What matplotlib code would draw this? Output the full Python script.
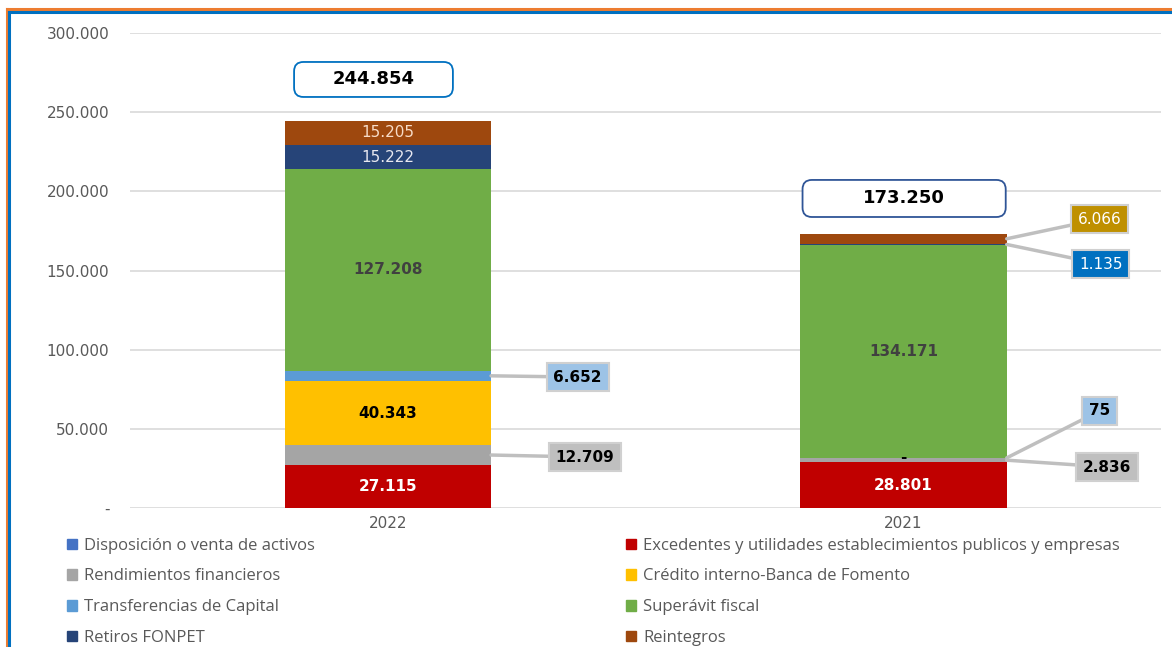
import matplotlib.pyplot as plt
from matplotlib.lines import Line2D
from matplotlib.patches import Patch, FancyBboxPatch

years = ['2022', '2021']
series = [
    'Disposición o venta de activos',
    'Excedentes y utilidades establecimientos publicos y empresas',
    'Rendimientos financieros',
    'Crédito interno-Banca de Fomento',
    'Transferencias de Capital',
    'Superávit fiscal',
    'Retiros FONPET',
    'Reintegros',
]
disposicion = [0, 0]
excedentes = [27115, 28801]
rendimientos = [12709, 2836]
credito = [40343, 0]
transferencias = [6652, 75]
superavit = [127208, 134171]
fonpet = [15222, 1135]
reintegros = [15205, 6066]
totales = [244854, 173250]

values = [disposicion, excedentes, rendimientos, credito, transferencias,
          superavit, fonpet, reintegros]
colors = ['#4472C4', '#C00000', '#A5A5A5', '#FFC000', '#5B9BD5',
          '#70AD47', '#264478', '#9E480E']


def fmt(v):
    if v == 0:
        return '-'
    return f'{v:,.0f}'.replace(',', '.')


fig = plt.figure(figsize=(11.72, 6.47), dpi=100)
ax = fig.add_axes([0.111, 0.2148, 0.880, 0.7342])

x = [0, 1]
width = 0.4
bottoms = [0, 0]
bars = []
for vals, col in zip(values, colors):
    b = ax.bar(x, vals, width, bottom=bottoms, color=col, zorder=3)
    bars.append((b, list(bottoms)))
    bottoms = [bt + v for bt, v in zip(bottoms, vals)]

ax.set_xlim(-0.5, 1.5)
ax.set_ylim(0, 300000)
ax.set_yticks(range(0, 300001, 50000))
ax.set_yticklabels([fmt(v) for v in range(0, 300001, 50000)])
ax.set_xticks(x)
ax.set_xticklabels(years)
ax.tick_params(axis='both', length=0, labelsize=11, colors='#595959', pad=6)
ax.tick_params(axis='y', pad=15)
for s in ax.spines.values():
    s.set_visible(False)
ax.yaxis.grid(True, color='#D9D9D9', lw=1.2, zorder=0)


def mid(i, j):
    return bars[i][1][j] + values[i][j] / 2


# labels inside bars
inside = [
    (1, 0, 'white', 'bold'), (3, 0, 'black', 'bold'), (5, 0, '#404040', 'bold'),
    (6, 0, '#E8E8F0', 'normal'), (7, 0, '#F8DCC8', 'normal'),
    (1, 1, 'white', 'bold'), (5, 1, '#404040', 'bold'), (3, 1, 'black', 'bold'),
]
for i, j, c, w in inside:
    ax.text(x[j], mid(i, j), fmt(values[i][j]), ha='center', va='center',
            color=c, fontsize=11, fontweight=w, zorder=5)

# callouts
callouts = [
    (4, 0, 0.368, 82700, '#9DC3E6', 'black', 'bold'),
    (2, 0, 0.382, 32200, '#BFBFBF', 'black', 'bold'),
    (4, 1, 1.380, 61300, '#9DC3E6', 'black', 'bold'),
    (2, 1, 1.395, 25900, '#BFBFBF', 'black', 'bold'),
    (6, 1, 1.382, 154100, '#0070C0', 'white', 'normal'),
    (7, 1, 1.380, 182500, '#BF9000', 'white', 'normal'),
]
for i, j, tx, ty, fc, tc, w in callouts:
    ax.annotate(fmt(values[i][j]), xy=(x[j] + width / 2, mid(i, j)),
                xytext=(tx, ty), ha='center', va='center', color=tc,
                fontsize=11, fontweight=w, zorder=6,
                bbox=dict(boxstyle='square,pad=0.45', fc=fc, ec='#D0D0D0', lw=1.5),
                arrowprops=dict(arrowstyle='-', color='#BFBFBF', lw=2.5,
                                shrinkA=0, shrinkB=0))

# totals in rounded boxes
aspect = (300000 / 475) * 516
tot_boxes = [(-0.182, 259600, 0.308, 22100, '#0070C0'),
             (0.804, 183800, 0.394, 23400, '#2F5597')]
for t, (bx, by, bw, bh, ec) in zip(totales, tot_boxes):
    ax.add_patch(FancyBboxPatch((bx, by), bw, bh,
                                boxstyle='round,pad=0,rounding_size=0.018',
                                mutation_aspect=aspect, fc='white', ec=ec,
                                lw=1.3, zorder=6))
    ax.text(bx + bw / 2, by + bh / 2, fmt(t), ha='center', va='center',
            fontsize=13, fontweight='bold', color='black', zorder=7)

# legend
order = [0, 2, 4, 6, 1, 3, 5, 7]
handles = [Patch(color=colors[k]) for k in order]
labels = [series[k] for k in order]
fig.legend(handles, labels, ncol=2, loc='upper left',
           bbox_to_anchor=(0.0444, 0.192), frameon=False,
           labelcolor='#595959', handlelength=0.6, handleheight=0.6,
           handletextpad=0.4, labelspacing=0.88, columnspacing=18.7,
           prop={'family': 'Open Sans', 'size': 12})

# frame lines at top and left
W, H = 1172, 647
fig.add_artist(Line2D([7 / W, 7 / W], [0, 1 - 9 / H], color='#ED7D31', lw=2.2,
                      transform=fig.transFigure))
fig.add_artist(Line2D([9.5 / W, 9.5 / W], [0, 1 - 11 / H], color='#0070C0', lw=2.2,
                      transform=fig.transFigure))
fig.add_artist(Line2D([7 / W, 1], [1 - 9 / H, 1 - 9 / H], color='#ED7D31', lw=2.2,
                      transform=fig.transFigure))
fig.add_artist(Line2D([9.5 / W, 1], [1 - 11.5 / H, 1 - 11.5 / H], color='#0070C0',
                      lw=2.2, transform=fig.transFigure))

fig.savefig('out.png', dpi=100)
